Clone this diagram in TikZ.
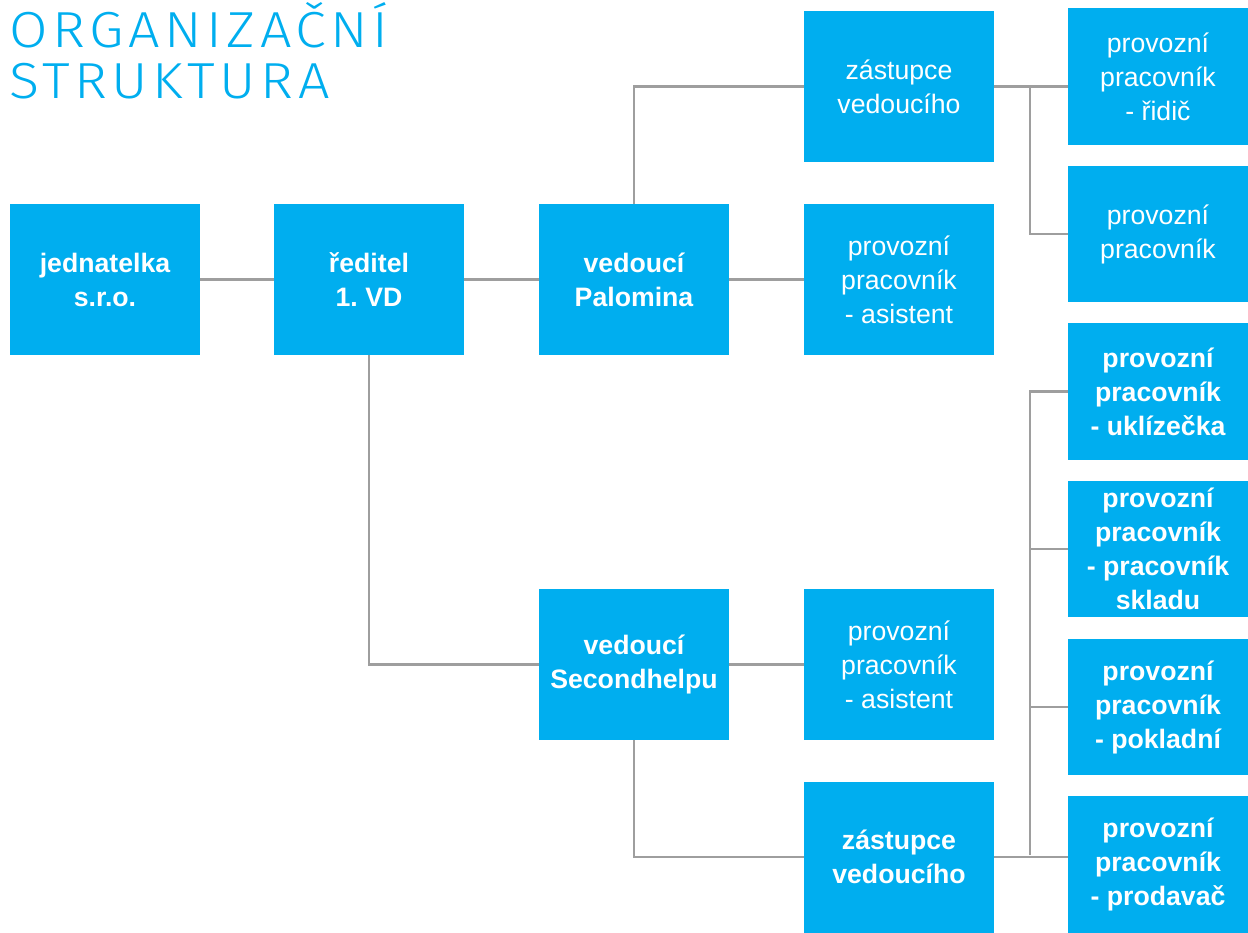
\documentclass[tikz,border=0pt]{standalone}
\usepackage{fontspec}
\setmainfont{Liberation Sans}
\newfontfamily\titlefont{Fira Sans Light}[LetterSpace=9,FakeStretch=1.1]
\definecolor{boxblue}{HTML}{00AEEF}
\definecolor{linegray}{HTML}{9E9E9E}
\begin{document}
\begin{tikzpicture}[x=0.75pt,y=-0.75pt,
    every node/.style={fill=boxblue,text=white,align=center,inner sep=0pt,
        font=\fontsize{20}{25.5}\selectfont},
    mainbox/.style={minimum width=142.5pt,minimum height=113.25pt},
    sidebox/.style={minimum width=135pt,minimum height=102.5pt},
    strong/.style={font=\fontsize{20}{25.5}\selectfont\bfseries},
    title/.style={fill=none,text=boxblue,anchor=base west,
        font=\titlefont\fontsize{38}{40}\selectfont},
    link/.style={draw=linegray,line width=2pt}]
            \useasboundingbox (0,0) rectangle (1248,932);

            \node[title] (T1) at (9,47) {ORGANIZAČNÍ};
            \node[title] (T2) at (9,98) {STRUKTURA};

            \node[mainbox,strong] (J) at (105,279.5) {jednatelka\\s.r.o.};
            \node[mainbox,strong] (R) at (369,279.5) {ředitel\\1.\ VD};
            \node[mainbox,strong] (P) at (634,279.5) {vedoucí\\Palomina};
            \node[mainbox] (PZ) at (899,86.5) {zástupce\\vedoucího};
            \node[mainbox] (PA) at (899,279.5) {provozní\\pracovník\\- asistent};
            \node[mainbox,strong] (S) at (634,664.5) {vedoucí\\Secondhelpu};
            \node[mainbox] (SA) at (899,664.5) {provozní\\pracovník\\- asistent};
            \node[mainbox,strong] (SZ) at (899,857) {zástupce\\vedoucího};

            \node[sidebox] (R1) at (1158,76.5) {provozní\\pracovník\\- řidič};
            \node[sidebox] (R2) at (1158,234) {provozní\\pracovník};
            \node[sidebox,strong] (R3) at (1158,391.5) {provozní\\pracovník\\- uklízečka};
            \node[sidebox,strong] (R4) at (1158,549) {provozní\\pracovník\\- pracovník\\skladu};
            \node[sidebox,strong] (R5) at (1158,707) {provozní\\pracovník\\- pokladní};
            \node[sidebox,strong] (R6) at (1158,864.5) {provozní\\pracovník\\- prodavač};

            \coordinate (B1) at (1030,86.5);
            \coordinate (B2) at (1030,855);

            \path [link] (J) edge (R);
            \path [link] (R) edge (P);
            \path [link] (P) edge (PA);
            \path [link] (S.east) edge (SA.west);
            \draw [link] (P.north) |- (PZ.west);
            \draw [link] (R.south) |- (S.west);
            \draw [link] (S.south) |- (SZ.west);

            \draw [link] (PZ.east) -- (PZ.east -| R1.west);
            \draw [link] (B1) |- (R2.west);
            \draw [link] (SZ.east) -- (SZ.east -| R6.west);
            \draw [link] (B2) |- (R3.west);
            \draw [link] (B2 |- R4.west) -- (R4.west);
            \draw [link] (B2 |- R5.west) -- (R5.west);
        \end{tikzpicture}
\end{document}
